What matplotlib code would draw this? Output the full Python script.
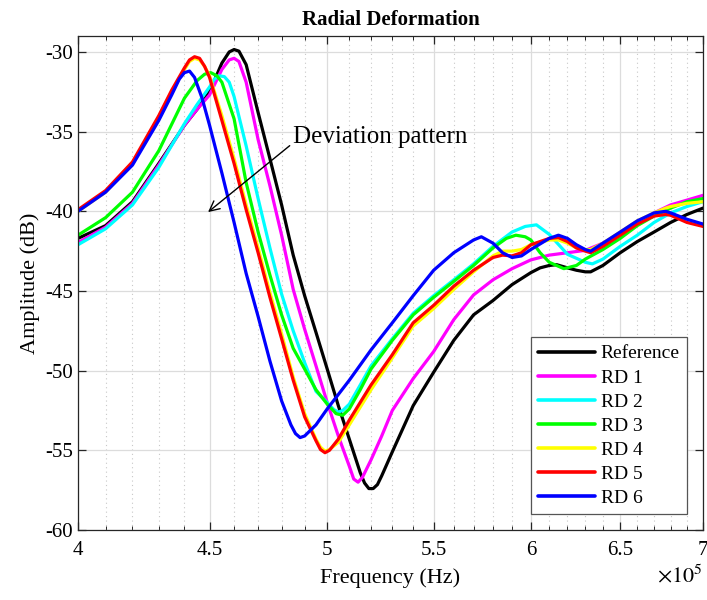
import numpy as np
import matplotlib
matplotlib.use("Agg")
import matplotlib.pyplot as plt
from matplotlib.ticker import FixedLocator, NullFormatter

# ---------------- data (frequency in units of 1e5 Hz, amplitude in dB) -------------
f_ref = [4.0, 4.1, 4.2, 4.3, 4.4, 4.45, 4.5, 4.55, 4.58, 4.6, 4.62, 4.65, 4.7, 4.75, 4.8,
         4.85, 4.9, 4.95, 5.0, 5.05, 5.1, 5.15, 5.17, 5.19, 5.21, 5.23, 5.25, 5.27, 5.3, 5.4,
         5.5, 5.6, 5.7, 5.8, 5.9, 6.0, 6.05, 6.1, 6.14, 6.2, 6.25, 6.3, 6.33, 6.4, 6.5, 6.6,
         6.7, 6.8, 6.9, 7.0]
a_ref = [-41.7, -40.9, -39.4, -37.0, -34.6, -33.6, -32.5, -30.7, -30.0, -29.85, -29.95, -30.8,
         -33.8, -36.7, -39.6, -42.75, -45.3, -47.6, -49.9, -52.2, -54.3, -56.4, -57.05, -57.4,
         -57.4, -57.15, -56.6, -56.0, -55.1, -52.2, -50.1, -48.1, -46.5, -45.6, -44.6, -43.85,
         -43.55, -43.4, -43.35, -43.55, -43.7, -43.8, -43.8, -43.4, -42.6, -41.9, -41.3, -40.7,
         -40.2, -39.8]

f_rd1 = [4.0, 4.1, 4.2, 4.3, 4.4, 4.45, 4.5, 4.55, 4.58, 4.6, 4.62, 4.65, 4.7, 4.75, 4.8,
         4.85, 4.9, 4.95, 5.0, 5.05, 5.1, 5.12, 5.14, 5.16, 5.2, 5.25, 5.3, 5.4, 5.5, 5.6,
         5.7, 5.8, 5.9, 6.0, 6.1, 6.2, 6.3, 6.4, 6.5, 6.6, 6.7, 6.8, 6.9, 7.0]
a_rd1 = [-41.96, -41.0, -39.5, -37.1, -34.6, -33.6, -32.7, -31.1, -30.5, -30.4, -30.6, -31.9,
         -35.5, -38.4, -41.5, -44.9, -47.4, -49.7, -52.0, -54.1, -56.0, -56.8, -57.0, -56.7,
         -55.6, -54.1, -52.5, -50.5, -48.8, -46.8, -45.25, -44.3, -43.6, -43.05, -42.75, -42.6,
         -42.45, -42.0, -41.4, -40.7, -40.1, -39.6, -39.3, -39.0]

f_rd2 = [4.0, 4.1, 4.2, 4.3, 4.4, 4.45, 4.5, 4.52, 4.54, 4.56, 4.58, 4.6, 4.65, 4.7, 4.75,
         4.8, 4.85, 4.9, 4.95, 5.0, 5.03, 5.05, 5.07, 5.1, 5.15, 5.2, 5.3, 5.4, 5.5, 5.6, 5.7,
         5.8, 5.9, 5.97, 6.03, 6.1, 6.2, 6.3, 6.34, 6.4, 6.5, 6.6, 6.7, 6.8, 6.9, 7.0]
a_rd2 = [-42.1, -41.1, -39.6, -37.25, -34.5, -33.3, -32.2, -31.7, -31.5, -31.55, -31.9, -32.8,
         -35.9, -39.2, -42.3, -45.2, -47.5, -49.5, -51.3, -52.0, -52.45, -52.6, -52.5, -52.1,
         -50.9, -49.7, -48.0, -46.4, -45.3, -44.3, -43.3, -42.2, -41.3, -40.95, -40.85, -41.45,
         -42.7, -43.2, -43.3, -43.0, -42.2, -41.5, -40.7, -40.1, -39.7, -39.4]

f_rd3 = [4.0, 4.1, 4.2, 4.3, 4.4, 4.45, 4.48, 4.505, 4.53, 4.55, 4.6, 4.65, 4.7, 4.75, 4.8,
         4.85, 4.9, 4.95, 5.0, 5.04, 5.07, 5.1, 5.15, 5.2, 5.3, 5.4, 5.5, 5.6, 5.7, 5.8, 5.87,
         5.92, 5.97, 6.0, 6.05, 6.1, 6.18, 6.25, 6.3, 6.4, 6.5, 6.6, 6.7, 6.8, 6.9, 7.0]
a_rd3 = [-41.5, -40.4, -38.8, -36.2, -32.9, -31.8, -31.4, -31.3, -31.5, -31.9, -34.2, -38.2,
         -41.3, -44.0, -46.5, -48.6, -49.9, -51.2, -52.1, -52.7, -52.8, -52.4, -51.2, -49.9,
         -48.1, -46.5, -45.4, -44.4, -43.4, -42.3, -41.7, -41.5, -41.6, -41.8, -42.6, -43.2,
         -43.6, -43.4, -43.0, -42.4, -41.7, -40.9, -40.3, -39.8, -39.4, -39.2]

f_rd4 = [4.0, 4.1, 4.2, 4.3, 4.35, 4.4, 4.42, 4.44, 4.46, 4.48, 4.5, 4.55, 4.6, 4.65, 4.7,
         4.75, 4.8, 4.85, 4.9, 4.95, 4.97, 4.99, 5.01, 5.05, 5.1, 5.2, 5.3, 5.4, 5.5, 5.6,
         5.7, 5.8, 5.85, 5.9, 5.95, 6.0, 6.1, 6.15, 6.2, 6.25, 6.3, 6.33, 6.4, 6.5, 6.6, 6.7,
         6.77, 6.8, 6.9, 7.0]
a_rd4 = [-40.0, -38.8, -37.0, -34.1, -32.5, -31.1, -30.6, -30.4, -30.5, -30.9, -31.5, -34.0,
         -36.7, -39.6, -42.3, -45.1, -47.7, -50.4, -52.7, -54.3, -54.8, -55.05, -54.95, -54.5,
         -53.4, -51.2, -49.2, -47.2, -46.1, -44.9, -43.8, -42.8, -42.5, -42.5, -42.4, -42.1,
         -41.8, -41.8, -42.0, -42.3, -42.4, -42.4, -42.0, -41.3, -40.6, -40.1, -39.8, -39.7,
         -39.5, -39.4]

f_rd5 = [4.0, 4.1, 4.2, 4.3, 4.35, 4.4, 4.42, 4.44, 4.46, 4.48, 4.5, 4.55, 4.6, 4.65, 4.7,
         4.75, 4.8, 4.85, 4.9, 4.95, 4.97, 4.99, 5.01, 5.05, 5.1, 5.2, 5.3, 5.4, 5.5, 5.6,
         5.7, 5.8, 5.85, 5.9, 5.95, 6.0, 6.1, 6.15, 6.2, 6.25, 6.3, 6.33, 6.4, 6.5, 6.6, 6.7,
         6.77, 6.8, 6.9, 7.0]
a_rd5 = [-39.9, -38.7, -36.9, -34.0, -32.4, -31.0, -30.5, -30.3, -30.4, -30.9, -31.6, -34.3,
         -37.0, -39.9, -42.6, -45.4, -48.0, -50.6, -52.9, -54.4, -54.95, -55.15, -55.0, -54.3,
         -53.1, -50.9, -49.0, -47.0, -45.9, -44.7, -43.7, -42.9, -42.75, -42.8, -42.6, -42.1,
         -41.7, -41.65, -41.9, -42.3, -42.5, -42.6, -42.2, -41.5, -40.8, -40.3, -40.2, -40.25,
         -40.7, -40.95]

f_rd6 = [4.0, 4.1, 4.2, 4.3, 4.35, 4.38, 4.4, 4.42, 4.44, 4.47, 4.5, 4.55, 4.6, 4.65, 4.7,
         4.75, 4.8, 4.84, 4.86, 4.88, 4.9, 4.95, 5.0, 5.1, 5.2, 5.3, 5.4, 5.5, 5.6, 5.7, 5.74,
         5.8, 5.85, 5.9, 5.95, 6.0, 6.1, 6.15, 6.2, 6.25, 6.3, 6.33, 6.4, 6.5, 6.6, 6.7, 6.77,
         6.8, 6.9, 7.0]
a_rd6 = [-40.0, -38.8, -37.1, -34.3, -32.7, -31.7, -31.3, -31.2, -31.6, -32.9, -34.6, -37.6,
         -40.7, -43.9, -46.6, -49.4, -51.9, -53.4, -53.95, -54.2, -54.1, -53.4, -52.4, -50.6,
         -48.7, -47.0, -45.3, -43.7, -42.6, -41.8, -41.6, -42.0, -42.6, -42.9, -42.8, -42.4,
         -41.7, -41.5, -41.7, -42.1, -42.4, -42.5, -42.0, -41.3, -40.6, -40.1, -40.0, -40.1,
         -40.5, -40.8]

series_labels = ["Reference", "RD 1", "RD 2", "RD 3", "RD 4", "RD 5", "RD 6"]
series_colors = ["#000000", "#ff00ff", "#00ffff", "#00ff00", "#ffff00", "#ff0000", "#0000ff"]
series_f = [f_ref, f_rd1, f_rd2, f_rd3, f_rd4, f_rd5, f_rd6]
series_a = [a_ref, a_rd1, a_rd2, a_rd3, a_rd4, a_rd5, a_rd6]

major_ticks = [4, 4.5, 5, 5.5, 6, 6.5, 7]
major_labels = ["4", "4.5", "5", "5.5", "6", "6.5", "7"]
y_ticks = [-60, -55, -50, -45, -40, -35, -30]

# ---------------- figure -------------
plt.rcParams["font.family"] = ["Liberation Serif", "DejaVu Serif"]
plt.rcParams["mathtext.fontset"] = "stix"

fig = plt.figure(figsize=(7.07, 6.0), dpi=100)
ax = fig.add_axes([78 / 707, 70 / 600, 625 / 707, 494 / 600])

for i in range(len(series_labels)):
    ax.plot(series_f[i], series_a[i], color=series_colors[i], lw=2.3,
            label=series_labels[i], solid_joinstyle="round", solid_capstyle="round")

ax.set_xscale("log")
ax.set_xlim(4, 7)
ax.set_ylim(-60, -29)
ax.xaxis.set_major_locator(FixedLocator(major_ticks))
ax.set_xticklabels(major_labels)
minor = [round(4 + 0.1 * k, 1) for k in range(31)]
minor = [m for m in minor if all(abs(m - t) > 1e-6 for t in major_ticks)]
ax.xaxis.set_minor_locator(FixedLocator(minor))
ax.xaxis.set_minor_formatter(NullFormatter())
ax.set_yticks(y_ticks)
ax.set_yticklabels([str(v) for v in y_ticks])

ax.grid(True, which="major", color="#dcdcdc", lw=0.9, ls="-")
ax.grid(True, which="minor", axis="x", color="#c8c8c8", lw=0.8, ls=(0, (1, 3)))
ax.set_axisbelow(True)

ax.tick_params(which="both", direction="in", top=True, right=True, labelsize=15,
               color="#262626")
ax.tick_params(which="major", length=6, width=0.9)
ax.tick_params(which="minor", length=3, width=0.7)
ax.tick_params(axis="x", pad=8)
for sp in ax.spines.values():
    sp.set_color("#262626")
    sp.set_linewidth(0.9)

ax.set_title("Radial Deformation", fontsize=15, fontweight="bold", pad=8)
ax.set_xlabel("Frequency (Hz)", fontsize=16, labelpad=6)
ax.set_ylabel("Amplitude (dB)", fontsize=16, labelpad=4)
ax.text(1.0, -0.07, r"$\times10^{5}$", transform=ax.transAxes, ha="right", va="top",
        fontsize=16)

ax.annotate("Deviation pattern", xy=(4.494, -40.05), xytext=(4.85, -35.33),
            fontsize=18, va="center", ha="left",
            arrowprops=dict(arrowstyle="->", color="black", lw=1.0,
                            shrinkA=0, shrinkB=0, mutation_scale=18,
                            relpos=(-0.02, 0.1)))

leg = ax.legend(loc="lower right", fontsize=14, frameon=True, fancybox=False,
                framealpha=1, edgecolor="#555555", handlelength=2.9,
                handletextpad=0.3, labelspacing=0.33, borderpad=0.4,
                borderaxespad=0.8)
leg.get_frame().set_linewidth(0.9)
for line in leg.get_lines():
    line.set_linewidth(2.6)

fig.savefig("out.png", dpi=100)
